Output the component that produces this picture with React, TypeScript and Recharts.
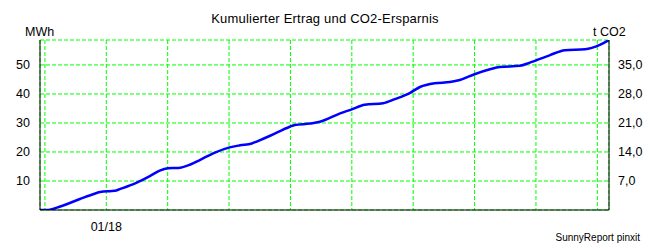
import React from "react";
import { LineChart, Line, XAxis, YAxis, CartesianGrid } from "recharts";

// x in day units (gridline spacing = 10 units)
const days = [0, 1.1, 3.3, 6.5, 9.0, 9.8, 11.4, 12.2, 13.0, 15.5, 17.9, 19.5, 20.8, 22.5, 24.4, 26.1, 28.5, 30.9, 32.6, 34.5, 35.3, 37.5, 40.7, 41.5, 44.0, 45.6, 48.9, 50.8, 52.9, 55.9, 57.8, 60.3, 61.9, 64.3, 66.8, 68.4, 70.8, 73.3, 74.9, 78.2, 79.8, 83.1, 85.5, 88.8, 91.2, 92.7];
const energy = [0, 0, 1.2, 3.8, 5.7, 6.2, 6.5, 6.6, 7.2, 9.2, 11.7, 13.6, 14.4, 14.5, 15.6, 17.3, 19.8, 21.6, 22.3, 22.9, 23.6, 25.6, 28.7, 29.3, 29.8, 30.4, 33.3, 34.7, 36.3, 36.8, 38.2, 40.4, 42.4, 43.7, 44.1, 44.8, 46.8, 48.5, 49.3, 49.7, 50.8, 53.4, 55.1, 55.4, 56.9, 58.6];

const xTicks = [0.8, 10.8, 20.8, 30.8, 40.8, 50.8, 60.8, 70.8, 80.8, 90.8];
const xTickLabels = ["", "01/18", "", "", "", "", "", "", "", ""];
const leftTicks = [10, 20, 30, 40, 50];
const rightTicks = [7, 14, 21, 28, 35];

const title = "Kumulierter Ertrag und CO2-Ersparnis";
const leftUnit = "MWh";
const rightUnit = "t CO2";
const footer = "SunnyReport pinxit";

const data = days.map((d, i) => ({ d, e: energy[i] }));

const font = "'Liberation Sans', Arial, sans-serif";
const tickStyle = { fontSize: 12.5, fill: "#000", fontFamily: font };

export default function App() {
  return (
    <div style={{ position: "absolute", left: 0, top: 0, width: 650, height: 250, background: "#fff", fontFamily: font }}>
      <LineChart width={650} height={250} data={data} margin={{ top: 40, right: 0, bottom: 10, left: 0 }}>
        <CartesianGrid stroke="#00ff00" strokeDasharray="4 2" vertical horizontal yAxisId="left" />
        <XAxis
          dataKey="d"
          type="number"
          domain={[0, 92.7]}
          ticks={xTicks}
          tickFormatter={(v: number) => xTickLabels[xTicks.indexOf(v)] ?? ""}
          height={30}
          tick={tickStyle}
          tickLine={false}
          axisLine={{ stroke: "#000" }}
          tickMargin={6}
          interval={0}
          allowDataOverflow
        />
        <XAxis xAxisId="top" orientation="top" dataKey="d" type="number" domain={[0, 92.7]} tick={false} tickLine={false} height={0} axisLine={{ stroke: "#000" }} />
        <YAxis
          yAxisId="left"
          domain={[0, 58.6]}
          ticks={leftTicks}
          width={40}
          tick={tickStyle}
          tickLine={false}
          tickMargin={4}
          axisLine={{ stroke: "#000" }}
          allowDataOverflow
        />
        <YAxis
          yAxisId="right"
          orientation="right"
          domain={[0, 41.02]}
          ticks={rightTicks}
          width={41}
          tick={{ ...tickStyle, textAnchor: "start" }}
          tickFormatter={(v: number) => v.toFixed(1).replace(".", ",")}
          tickLine={false}
          tickMargin={3}
          axisLine={{ stroke: "#000" }}
          allowDataOverflow
        />
        <Line
          yAxisId="left"
          type="monotone"
          dataKey="e"
          stroke="#0000ff"
          strokeWidth={2.5}
          dot={false}
          isAnimationActive={false}
        />
      </LineChart>
      <div style={{ position: "absolute", left: 0, width: 650, top: 11, textAlign: "center", fontSize: 13, letterSpacing: 0.2, color: "#000" }}>{title}</div>
      <div style={{ position: "absolute", left: 25, top: 25, fontSize: 12.5, color: "#000" }}>{leftUnit}</div>
      <div style={{ position: "absolute", left: 593, top: 25, fontSize: 12.5, color: "#000" }}>{rightUnit}</div>
      <div style={{ position: "absolute", right: 10, top: 232, fontSize: 10, color: "#000" }}>{footer}</div>
    </div>
  );
}
